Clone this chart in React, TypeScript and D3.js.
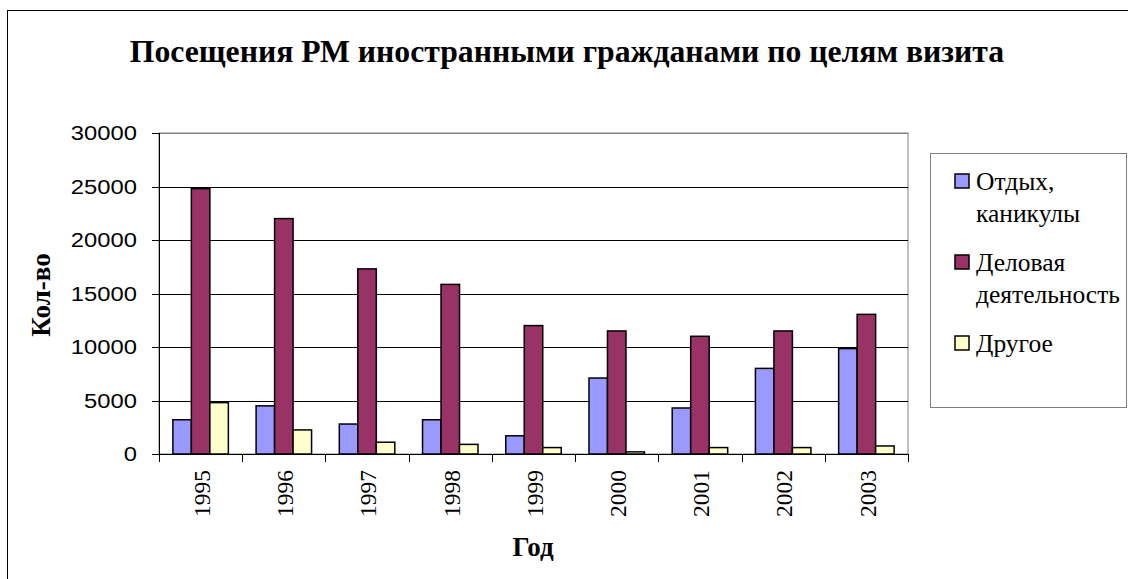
import React from 'react';
import * as d3 from 'd3';

const years = ['1995', '1996', '1997', '1998', '1999', '2000', '2001', '2002', '2003'];
const rest = [3200, 4500, 2800, 3200, 1700, 7100, 4300, 8000, 9850];
const business = [24800, 22000, 17300, 15850, 12000, 11500, 11000, 11500, 13050];
const other = [4800, 2250, 1100, 900, 600, 200, 600, 600, 750];
const yTicks = [0, 5000, 10000, 15000, 20000, 25000, 30000];
const colors = ['#9999FF', '#993366', '#FFFFCC'];
// подписи легенды, разбитые на строки как в оригинале
const legendLines = [['Отдых,', 'каникулы'], ['Деловая', 'деятельность'], ['Другое']];

const left = 159, right = 908, top = 133, bottom = 454;
const serif = '"Liberation Serif"';
const sans = '"Liberation Sans"';

const x = d3.scaleBand().domain(years).range([left, right]);
const xs = d3.scaleBand().domain(['0', '1', '2'])
    .range([0, x.bandwidth()]).paddingInner(0).paddingOuter(0.75);
const y = d3.scaleLinear().domain([0, 30000]).range([bottom, top]);
const px = (v: number) => Math.round(v) + 0.5;

const App = () => {
    const series = [rest, business, other];
    const entryY = [190, 271, 352];
    return (
        <svg width={1128} height={579} style={{ position: 'absolute', left: 0, top: 0 }}>
            {/* рамка диаграммы */}
            <rect x={7.5} y={10.5} width={1130} height={580} fill="#fff" stroke="#000" />

            <text x={567} y={62} textAnchor="middle" fontSize={31.7}
                style={{ fontFamily: serif, fontWeight: 700 }}>
                Посещения РМ иностранными гражданами по целям визита
            </text>

            {/* область построения */}
            <rect x={left} y={top} width={right - left} height={bottom - top} fill="#fff" stroke="#808080" />
            {yTicks.filter(d => d > 0).map(d => (
                <line key={d} x1={left} x2={right} y1={px(y(d))} y2={px(y(d))}
                    stroke={d === 30000 ? '#808080' : '#000'} />
            ))}

            {series.map((vals, si) => (
                <g key={si}>
                    {vals.map((v, i) => (
                        <rect key={i} x={x(years[i])! + xs(String(si))!} y={y(v)}
                            width={xs.bandwidth()} height={y(0) - y(v)}
                            fill={colors[si]} stroke="#000" strokeWidth={1.5} />
                    ))}
                </g>
            ))}

            {/* ось Y */}
            <line x1={px(left)} x2={px(left)} y1={top} y2={bottom} stroke="#000" />
            {yTicks.map(d => (
                <g key={d}>
                    <line x1={left - 7} x2={left} y1={px(y(d))} y2={px(y(d))} stroke="#000" />
                    <text transform={`translate(137,${y(d)}) scale(1.22,1)`} dy="0.36em" textAnchor="end"
                        fontSize={19.5} style={{ fontFamily: sans }}>{d}</text>
                </g>
            ))}

            {/* ось X */}
            <line x1={left} x2={right} y1={bottom + 0.5} y2={bottom + 0.5} stroke="#000" />
            {[...years.map(d => x(d)!), right].map((d, i) => (
                <line key={i} x1={px(d)} x2={px(d)} y1={bottom} y2={bottom + 8} stroke="#000" />
            ))}
            {years.map(d => (
                <text key={d} transform={`translate(${x(d)! + x.bandwidth() / 2 + 1},470) rotate(-90)`}
                    dy="0.35em" textAnchor="end" fontSize={23.5}
                    style={{ fontFamily: serif, fontWeight: 400 }}>{d}</text>
            ))}

            <text x={533} y={556} textAnchor="middle" fontSize={27}
                style={{ fontFamily: serif, fontWeight: 700 }}>Год</text>
            <text transform="translate(50,295) rotate(-90)" textAnchor="middle" fontSize={27}
                style={{ fontFamily: serif, fontWeight: 700 }}>Кол-во</text>

            {/* легенда */}
            <rect x={930.5} y={153.5} width={196} height={254} fill="#fff" stroke="#808080" />
            {legendLines.map((lines, i) => (
                <g key={i}>
                    <rect x={955} y={entryY[i] - 16} width={14} height={14}
                        fill={colors[i]} stroke="#000" strokeWidth={1.5} />
                    <text fontSize={25.5} style={{ fontFamily: serif, fontWeight: 400 }}>
                        {lines.map((t, j) => (
                            <tspan key={j} x={976} y={entryY[i] + j * 32}>{t}</tspan>
                        ))}
                    </text>
                </g>
            ))}
        </svg>
    );
};

export default App;
